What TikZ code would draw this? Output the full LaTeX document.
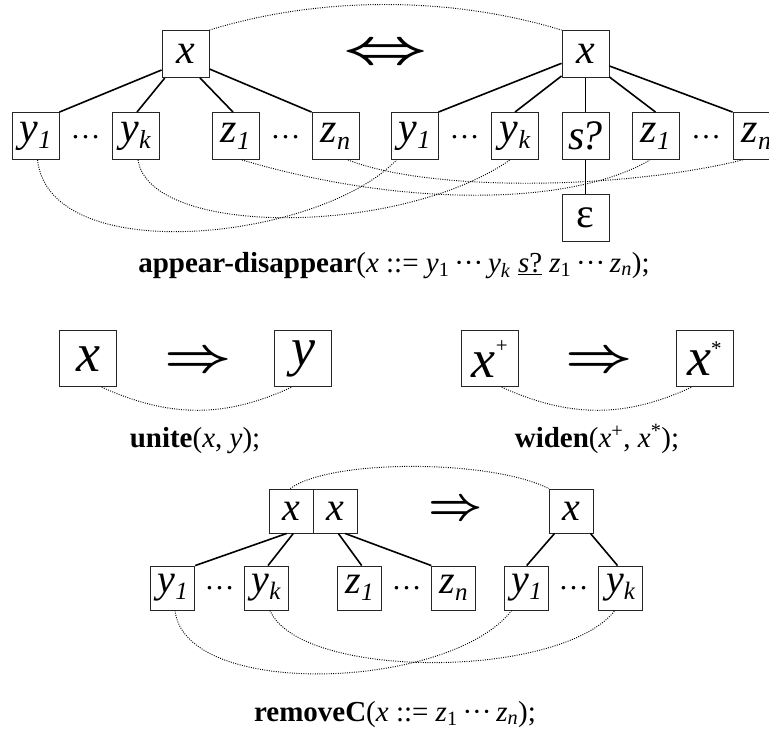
\documentclass[tikz,border=0pt]{standalone}
\usepackage{fontspec}
\setmainfont{Liberation Serif}
\usetikzlibrary{calc}
\newcommand\tsub[1]{\raisebox{-0.17em}{\fontsize{26pt}{26pt}\selectfont #1}}
\newcommand\bsub[1]{\raisebox{-0.17em}{\fontsize{25pt}{25pt}\selectfont #1}}
\newcommand\cdt{\textperiodcentered\textperiodcentered\textperiodcentered}
\tikzset{
  tbox/.style={draw=black!85, line width=0.9pt, minimum width=47pt, minimum height=47pt, inner sep=0pt, font=\fontsize{42pt}{42pt}\selectfont\itshape},
  mbox/.style={draw=black!85, line width=0.9pt, minimum width=57pt, minimum height=56pt, inner sep=0pt, font=\fontsize{54pt}{54pt}\selectfont\itshape},
  lbox/.style={draw=black!85, line width=0.9pt, minimum width=44pt, minimum height=44pt, inner sep=0pt, font=\fontsize{40pt}{40pt}\selectfont\itshape},
  treeline/.style={line width=1.6pt},
  corr/.style={line width=0.95pt, dash pattern=on 0.95pt off 1.35pt, black},
  dotsty/.style={font=\fontsize{30pt}{30pt}\selectfont, inner sep=0pt, anchor=base},
  captext/.style={font=\fontsize{29pt}{29pt}\selectfont, inner sep=0pt, anchor=base},
  arrowsty/.style={inner sep=0pt},
}
\begin{document}
\begin{tikzpicture}[x=1pt,y=-1pt]
\useasboundingbox (0,0) rectangle (769,733);
\clip (0,0) rectangle (769,733);

% ---------- top: appear-disappear ----------
\node[tbox] (x1) at (185.5,54) {x};
\node[tbox] (y1) at (35.5,136) {y\tsub{1}};
\node[tbox] (yk) at (135.5,136) {y\tsub{k}};
\node[tbox] (z1) at (235.5,136) {z\tsub{1}};
\node[tbox] (zn) at (335.5,136) {z\tsub{n}};
\node[dotsty] (d1) at (85.5,138.5) {…};
\node[dotsty] (d2) at (285.5,138.5) {…};
\node[arrowsty] (eq) at (385.5,54.5) {\scalebox{7.33}[4.79]{\boldmath$\Leftrightarrow$}};
\node[tbox] (x2) at (585.5,54) {x};
\node[tbox] (ry1) at (414.5,136) {y\tsub{1}};
\node[dotsty] (d3) at (464.5,138.5) {…};
\node[tbox] (ryk) at (515,136) {y\tsub{k}};
\node[tbox] (s) at (585.5,136) {s\kern-0.1em?};
\node[tbox] (rz1) at (655.5,136) {z\tsub{1}};
\node[dotsty] (d4) at (706,138.5) {…};
\node[tbox] (rzn) at (756.5,136) {z\tsub{n}};
\node[tbox] (eps) at (585.5,218) {\upshape ε};

\draw[treeline] ($(x1.west)+(0,16)$) -- (y1.north east);
\draw[treeline] ($(x1.south west)+(3.3,0)$) -- ($(yk.north)+(1.5,0)$);
\draw[treeline] ($(x1.south)+(14.5,0)$) -- ($(z1.north)+(-2.5,0)$);
\draw[treeline] ($(x1.east)+(0,15)$) -- (zn.north west);
\draw[treeline] ($(x2.west)+(0,9.3)$) -- (ry1.north east);
\draw[treeline] ($(x2.west)+(0,22)$) -- (ryk.north);
\draw[treeline] (x2.south) -- (s.north);
\draw[treeline] ($(x2.east)+(0,23)$) -- (rz1.north);
\draw[treeline] ($(x2.east)+(0,12)$) -- (rzn.north west);
\draw[treeline] (s.south) -- (eps.north);

\draw[corr] (x1.north east) .. controls (320,-4) and (450,-4) .. (x2.north west);
\draw[corr] ($(y1.south)+(2,0)$) .. controls (50,270) and (320,240) .. ($(ry1.south west)+(6,0)$);
\draw[corr] ($(yk.south)+(2.5,0)$) .. controls (150,238) and (400,236) .. ($(ryk.south)+(-5,0)$);
\draw[corr] ($(z1.south)+(6.5,0)$) .. controls (400,207) and (570,207) .. ($(rz1.south)+(-5.5,0)$);
\draw[corr] ($(zn.south)+(12.5,0)$) .. controls (430,192) and (620,190) .. ($(rzn.south west)+(10,0)$);

\node[captext] (c1) at (394,272) {\textbf{appear-disappear}(\textit{x} ::= \textit{y}\textsubscript{1}\,\cdt\,\textit{y}\textsubscript{\textit{k}} \underline{\textit{s}?} \textit{z}\textsubscript{1}\,\cdt\,\textit{z}\textsubscript{\textit{n}});};

% ---------- middle: unite, widen ----------
\node[mbox] (mx) at (88.3,358.7) {x};
\node[arrowsty] (ma1) at (198,362) {\scalebox{5.86}[4.79]{\boldmath$\Rightarrow$}};
\node[mbox] (my) at (303.3,358.7) {y};
\draw[corr] ($(mx.south)+(13.4,0)$) .. controls (170,418) and (225,418) .. ($(my.south)+(-11.6,0)$);
\node[captext] (c2) at (195,447) {\textbf{unite}(\textit{x}, \textit{y});};

\node[mbox] (mxp) at (489.7,358.7) {x\raisebox{0.46em}{\fontsize{21pt}{21pt}\selectfont\upshape +}};
\node[arrowsty] (ma2) at (599.4,362) {\scalebox{5.86}[4.79]{\boldmath$\Rightarrow$}};
\node[mbox] (mxs) at (704.5,358.7) {x\raisebox{0.36em}{\fontsize{21pt}{21pt}\selectfont\upshape *}};
\draw[corr] ($(mxp.south)+(12,0)$) .. controls (570,418) and (625,418) .. ($(mxs.south)+(-12.8,0)$);
\node[captext] (c3) at (597,447) {\textbf{widen}(\textit{x}\textsuperscript{+}, \textit{x}\textsuperscript{*});};

% ---------- bottom: removeC ----------
\node[lbox] (xa) at (291.3,511) {x};
\node[lbox] (xb) at (335.3,511) {x};
\node[arrowsty] (ba) at (456,511) {\scalebox{4.73}[4.6]{\boldmath$\Rightarrow$}};
\node[lbox] (xr) at (571.3,511) {x};
\node[lbox] (by1) at (172.8,588) {y\bsub{1}};
\node[dotsty] (d5) at (219.5,589.5) {…};
\node[lbox] (byk) at (266,588) {y\bsub{k}};
\node[lbox] (bz1) at (359.7,588) {z\bsub{1}};
\node[dotsty] (d6) at (406.7,589.5) {…};
\node[lbox] (bzn) at (453.7,588) {z\bsub{n}};
\node[lbox] (bry1) at (526.7,588) {y\bsub{1}};
\node[dotsty] (d7) at (573.7,589.5) {…};
\node[lbox] (bryk) at (620.5,588) {y\bsub{k}};

\draw[treeline] ($(xa.south)+(-4.6,0)$) -- (by1.north east);
\draw[treeline] ($(xa.south)+(2,0)$) -- ($(byk.north)+(2,0)$);
\draw[treeline] ($(xb.south)+(3,0)$) -- ($(bz1.north)+(2,0)$);
\draw[treeline] ($(xb.south)+(9.7,0)$) -- (bzn.north west);
\draw[treeline] ($(xr.south west)+(5.7,0)$) -- (bry1.north);
\draw[treeline] ($(xr.south east)+(-3.3,0)$) -- ($(bryk.north)+(-3,0)$);

\draw[corr] ($(xa.north)+(-1,0)$) .. controls (330,459) and (490,459) .. (xr.north west);
\draw[corr] ($(by1.south)+(2.2,0)$) .. controls (185,700) and (450,690) .. ($(bry1.south)+(-15,0)$);
\draw[corr] ($(byk.south)+(4,0)$) .. controls (300,680) and (560,680) .. ($(bryk.south)+(-5.5,0)$);

\node[captext] (c4) at (395,721) {\textbf{removeC}(\textit{x} ::= \textit{z}\textsubscript{1}\,\cdt\,\textit{z}\textsubscript{\textit{n}});};
\end{tikzpicture}
\end{document}
